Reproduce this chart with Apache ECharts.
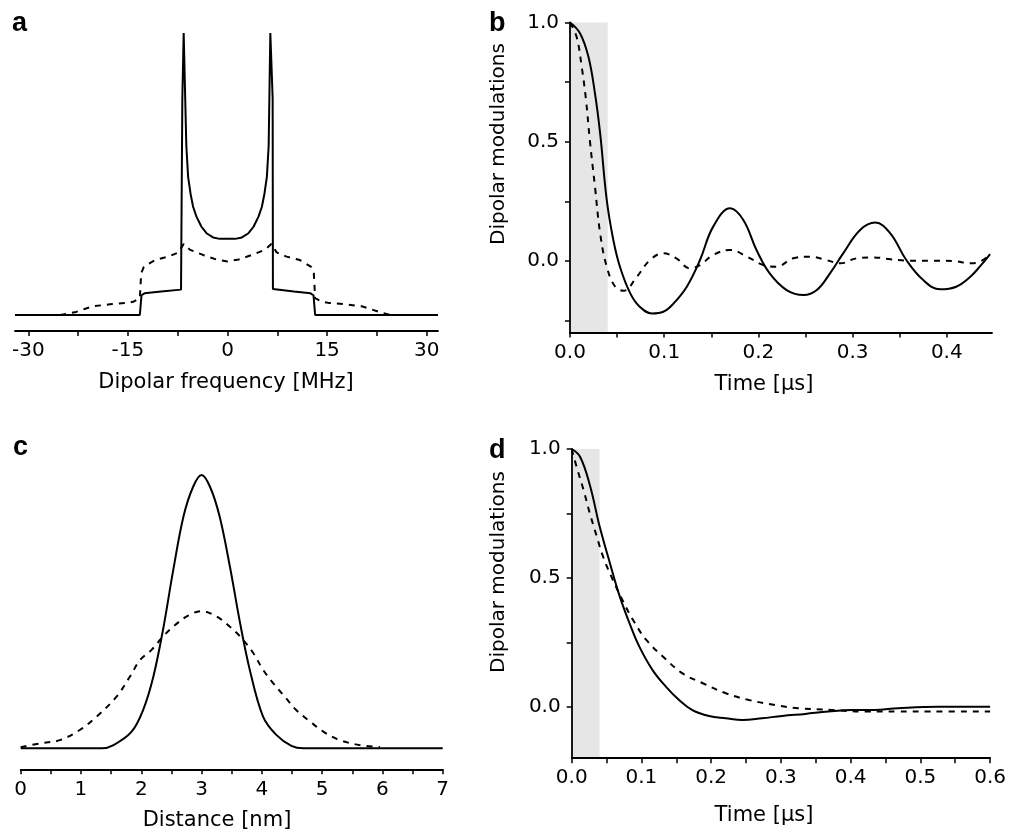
<!DOCTYPE html>
<html>
<head>
<meta charset="utf-8">
<script src="https://cdn.jsdelivr.net/npm/echarts@6/dist/echarts.min.js"></script>
<style>html,body{margin:0;padding:0;background:#fff}#c{width:1009px;height:832px}</style>
</head>
<body>
<div id="c"></div>
<script>
// ---------- Panel a: dipolar spectrum ----------
const aFreqSolid = [-32, -13.2, -12.95, -12.5, -10, -7.0, -6.84, -6.8, -6.6, -6.45, -6.2, -5.93, -5.57, -5.18, -4.67, -3.92, -3.16, -2.17, -1.16, 0,
                    1.16, 2.17, 3.16, 3.92, 4.67, 5.18, 5.57, 5.93, 6.2, 6.45, 6.6, 6.8, 6.84, 7.0, 10, 12.5, 12.95, 13.2, 31.7];
const aSolid = [0, 0, 0.07, 0.077, 0.083, 0.09, 0.092, 0.77, 1.0, 1.0, 0.6, 0.49, 0.431, 0.384, 0.349, 0.313, 0.29, 0.275, 0.27, 0.27,
                0.27, 0.275, 0.29, 0.313, 0.349, 0.384, 0.431, 0.49, 0.6, 1.0, 1.0, 0.77, 0.092, 0.09, 0.083, 0.077, 0.07, 0, 0];
const aFreqDash = [-25.2, -22.8, -21.3, -20.2, -17.7, -15.2, -14.2, -13.2, -13.0, -12.6, -10.9, -8.9, -7.4, -6.6, -5.7, -3.7, -1.7, 0,
                   1.7, 3.7, 5.7, 6.6, 7.4, 8.9, 10.9, 12.6, 13.0, 13.2, 14.2, 15.2, 17.7, 20.2, 21.3, 22.8, 24.5];
const aDashed = [0, 0.011, 0.023, 0.031, 0.038, 0.043, 0.047, 0.06, 0.148, 0.171, 0.195, 0.207, 0.222, 0.252, 0.232, 0.213, 0.197, 0.19,
                 0.197, 0.213, 0.232, 0.252, 0.222, 0.207, 0.195, 0.171, 0.148, 0.06, 0.047, 0.043, 0.038, 0.031, 0.023, 0.011, 0];
const aTicks = [-30, -22.5, -15, -7.5, 0, 7.5, 15, 22.5, 30];
const aLabels = [-30, -15, 0, 15, 30];

// ---------- Panel b: time traces ----------
const bTimeSolid = [0, 0.0106, 0.0195, 0.0265, 0.032, 0.039, 0.046, 0.053, 0.064, 0.074, 0.087, 0.099, 0.11, 0.124, 0.138, 0.152, 0.17, 0.184, 0.198, 0.212, 0.23, 0.248, 0.262, 0.276, 0.29, 0.308, 0.324, 0.34, 0.357, 0.375, 0.393, 0.41, 0.425, 0.435, 0.446];
const bSolid = [1.0, 0.955, 0.857, 0.703, 0.535, 0.256, 0.088, -0.024, -0.136, -0.192, -0.22, -0.213, -0.178, -0.108, 0.004, 0.144, 0.221, 0.172, 0.046, -0.052, -0.122, -0.143, -0.122, -0.052, 0.032, 0.13, 0.161, 0.116, 0.004, -0.08, -0.119, -0.108, -0.066, -0.024, 0.029];
const bTimeDash = [0, 0.007, 0.0124, 0.017, 0.021, 0.0265, 0.032, 0.039, 0.048, 0.057, 0.071, 0.085, 0.099, 0.113, 0.127, 0.138, 0.152, 0.17, 0.188, 0.205, 0.219, 0.237, 0.255, 0.272, 0.287, 0.304, 0.322, 0.34, 0.361, 0.386, 0.407, 0.425, 0.435, 0.444];
const bDashed = [1.0, 0.94, 0.815, 0.675, 0.508, 0.312, 0.116, -0.024, -0.108, -0.125, -0.066, 0.004, 0.032, 0.011, -0.031, -0.017, 0.025, 0.046, 0.018, -0.017, -0.024, 0.011, 0.018, 0.004, -0.01, 0.011, 0.015, 0.007, 0.001, 0.001, 0, -0.01, -0.003, 0.02];
const bXTicks = [0, 0.05, 0.1, 0.15, 0.2, 0.25, 0.3, 0.35, 0.4, 0.45];
const bXLabels = [0, 0.1, 0.2, 0.3, 0.4];
const bYTicks = [-0.25, 0, 0.25, 0.5, 0.75, 1.0];
const bYLabels = [0, 0.5, 1.0];
const bShade = [0, 0.04];

// ---------- Panel c: distance distributions ----------
const cDistSolid = [0, 1.34, 1.54, 1.84, 2.03, 2.2, 2.36, 2.53, 2.7, 2.86, 3.0, 3.14, 3.3, 3.47, 3.64, 3.8, 4.02, 4.24, 4.49, 4.69, 7.0];
const cSolid = [0, 0, 0.012, 0.061, 0.14, 0.262, 0.433, 0.652, 0.848, 0.957, 1.0, 0.957, 0.848, 0.665, 0.457, 0.287, 0.116, 0.049, 0.009, 0, 0];
const cDistDash = [0, 0.32, 0.65, 0.98, 1.26, 1.59, 1.81, 1.98, 2.17, 2.36, 2.53, 2.75, 3.0, 3.25, 3.47, 3.64, 3.86, 4.02, 4.19, 4.38, 4.57, 4.8, 5.02, 5.29, 5.62, 5.96];
const cDashed = [0.004, 0.018, 0.03, 0.067, 0.116, 0.189, 0.262, 0.323, 0.36, 0.409, 0.445, 0.482, 0.502, 0.482, 0.445, 0.409, 0.348, 0.287, 0.238, 0.189, 0.14, 0.098, 0.061, 0.03, 0.012, 0.004];
const cTicks = [0, 0.5, 1, 1.5, 2, 2.5, 3, 3.5, 4, 4.5, 5, 5.5, 6, 6.5, 7];
const cLabels = [0, 1, 2, 3, 4, 5, 6, 7];

// ---------- Panel d: time traces ----------
const dTimeSolid = [0, 0.012, 0.026, 0.04, 0.055, 0.069, 0.083, 0.097, 0.116, 0.135, 0.154, 0.173, 0.197, 0.221, 0.245, 0.273, 0.302, 0.335, 0.368, 0.401, 0.434, 0.468, 0.525, 0.6];
const dSolid = [1.0, 0.97, 0.86, 0.70, 0.555, 0.427, 0.323, 0.233, 0.142, 0.078, 0.026, -0.013, -0.036, -0.045, -0.052, -0.045, -0.036, -0.028, -0.019, -0.013, -0.013, -0.006, 0, 0];
const dTimeDash = [0, 0.007, 0.017, 0.026, 0.036, 0.045, 0.059, 0.074, 0.088, 0.107, 0.131, 0.159, 0.188, 0.221, 0.254, 0.292, 0.325, 0.373, 0.42, 0.468, 0.515, 0.6];
const dDashed = [1.0, 0.931, 0.841, 0.75, 0.66, 0.582, 0.492, 0.407, 0.336, 0.259, 0.194, 0.129, 0.091, 0.052, 0.026, 0.006, -0.006, -0.013, -0.019, -0.019, -0.019, -0.019];
const dXTicks = [0, 0.05, 0.1, 0.15, 0.2, 0.25, 0.3, 0.35, 0.4, 0.45, 0.5, 0.55, 0.6];
const dXLabels = [0, 0.1, 0.2, 0.3, 0.4, 0.5, 0.6];
const dYTicks = [0, 0.25, 0.5, 0.75, 1.0];
const dYLabels = [0, 0.5, 1.0];
const dShade = [0, 0.04];

const FONT = 'DejaVu Sans';
function pairs(xs, ys) { return xs.map((x, i) => [x, ys[i]]); }
const lineCol = '#000';

function xAx(gi, min, max, ticks, labels, fmt) {
  return {
    type: 'value', gridIndex: gi, min: min, max: max, position: 'bottom', z: 5,
    axisLine: { show: true, onZero: false, lineStyle: { color: lineCol, width: 1.8 } },
    axisTick: { show: true, inside: false, length: 5, customValues: ticks, lineStyle: { color: lineCol, width: 1.5 } },
    axisLabel: { customValues: labels, color: '#000', fontFamily: FONT, fontSize: 20, margin: 10, formatter: fmt },
    splitLine: { show: false }
  };
}
function yAx(gi, min, max, ticks, labels, show) {
  return {
    type: 'value', gridIndex: gi, min: min, max: max, show: show, z: 5,
    axisLine: { show: true, onZero: false, lineStyle: { color: lineCol, width: 1.8 } },
    axisTick: { show: true, inside: false, length: 5, customValues: ticks, lineStyle: { color: lineCol, width: 1.5 } },
    axisLabel: { customValues: labels, color: '#000', fontFamily: FONT, fontSize: 20, margin: 11, formatter: v => v.toFixed(1) },
    splitLine: { show: false }
  };
}
function solid(xi, data, sm) {
  return { type: 'line', xAxisIndex: xi, yAxisIndex: xi, data: data, showSymbol: false, smooth: sm || false, z: 3,
    lineStyle: { color: '#000', width: 2, type: 'solid' } };
}
function dashed(xi, data, sm) {
  return { type: 'line', xAxisIndex: xi, yAxisIndex: xi, data: data, showSymbol: false, smooth: sm || false, z: 3,
    lineStyle: { color: '#000', width: 2, type: [6, 6] } };
}
function shade(xi, range, yTop, yBot) {
  return { type: 'line', xAxisIndex: xi, yAxisIndex: xi, data: [], z: 1,
    markArea: { silent: true, itemStyle: { color: '#e6e6e6' },
      data: [[{ coord: [range[0], yTop] }, { coord: [range[1], yBot] }]] } };
}
function txt(text, x, y, size, bold, rot) {
  return { type: 'text', x: x, y: y, rotation: rot || 0, z: 10,
    style: { text: text, fill: '#000', fontFamily: bold ? 'Liberation Sans' : FONT, fontWeight: bold ? 'bold' : 'normal',
      fontSize: size, align: bold ? 'left' : 'center', verticalAlign: 'middle' } };
}

const chart = echarts.init(document.getElementById('c'), null, { renderer: 'canvas' });
chart.setOption({
  animation: false,
  backgroundColor: '#fff',
  grid: [
    { left: 15, top: 33, width: 423, height: 298 },
    { left: 570, top: 22.5, width: 422, height: 310 },
    { left: 20.7, top: 475, width: 422, height: 294.3 },
    { left: 571.7, top: 449, width: 421, height: 309.2 }
  ],
  xAxis: [
    xAx(0, -32, 31.7, aTicks, aLabels, v => String(v)),
    xAx(1, 0, 0.448, bXTicks, bXLabels, v => v.toFixed(1)),
    xAx(2, 0, 7, cTicks, cLabels, v => String(v)),
    xAx(3, 0, 0.6, dXTicks, dXLabels, v => v.toFixed(1))
  ],
  yAxis: [
    yAx(0, -0.0567, 1.0, [], [], false),
    yAx(1, -0.3, 1.0, bYTicks, bYLabels, true),
    yAx(2, -0.0768, 1.0, [], [], false),
    yAx(3, -0.2, 1.0, dYTicks, dYLabels, true)
  ],
  series: [
    solid(0, pairs(aFreqSolid, aSolid)),
    dashed(0, pairs(aFreqDash, aDashed)),
    shade(1, bShade, 1.0, -0.3),
    solid(1, pairs(bTimeSolid, bSolid), 0.4),
    dashed(1, pairs(bTimeDash, bDashed), 0.4),
    solid(2, pairs(cDistSolid, cSolid), 0.35),
    dashed(2, pairs(cDistDash, cDashed), 0.35),
    shade(3, dShade, 1.0, -0.2),
    solid(3, pairs(dTimeSolid, dSolid), 0.4),
    dashed(3, pairs(dTimeDash, dDashed), 0.4)
  ],
  graphic: [
    txt('a', 12, 24, 27, true),
    txt('b', 489, 24, 27, true),
    txt('c', 13, 448, 27, true),
    txt('d', 489, 451, 27, true),
    txt('Dipolar frequency [MHz]', 226, 383, 21, false),
    txt('Time [µs]', 764, 385, 21, false),
    txt('Distance [nm]', 217, 821, 21, false),
    txt('Time [µs]', 764, 816, 21, false),
    txt('Dipolar modulations', 499, 144, 20, false, Math.PI / 2),
    txt('Dipolar modulations', 499, 572, 20, false, Math.PI / 2)
  ]
});
</script>
</body>
</html>
